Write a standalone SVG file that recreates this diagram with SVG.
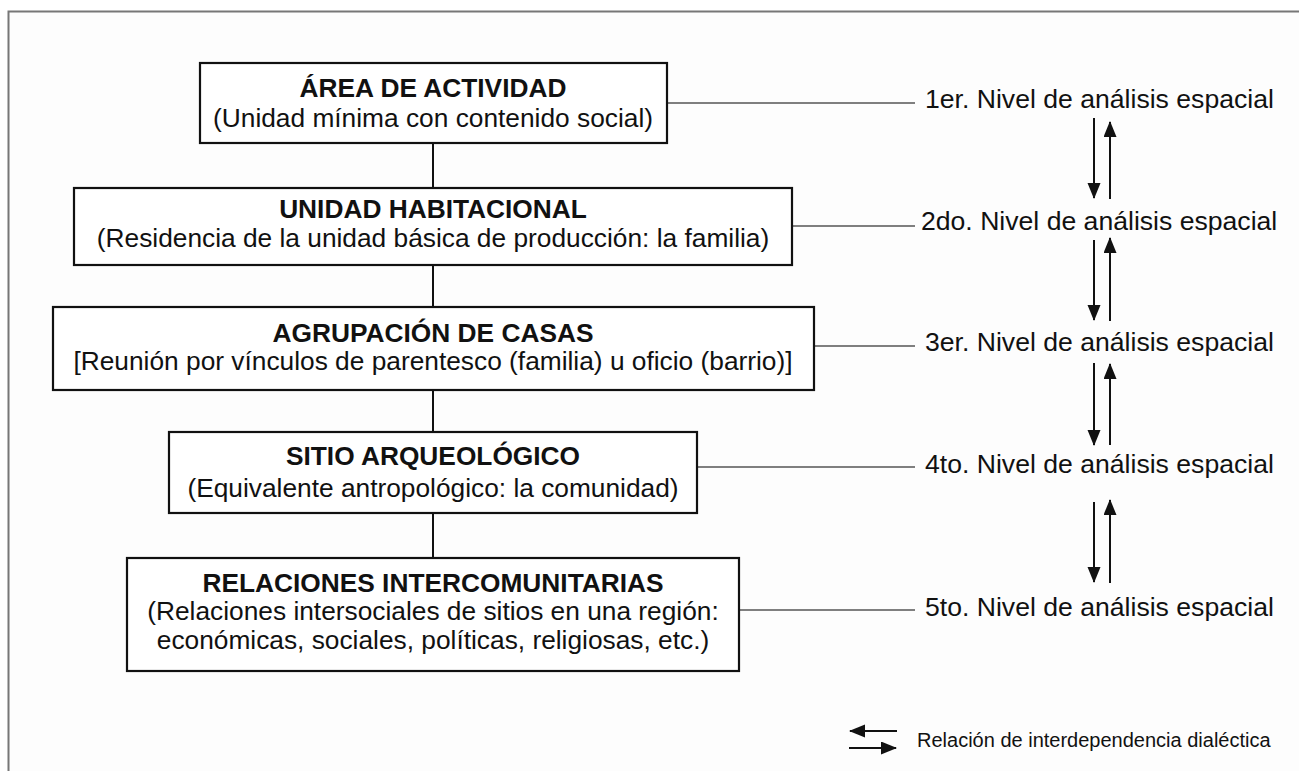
<svg xmlns="http://www.w3.org/2000/svg" width="1299" height="771" viewBox="0 0 1299 771">
<style>
.box{fill:#fff;stroke:#111;stroke-width:2.2}
.t{font-family:"Liberation Sans",Arial,sans-serif;font-size:26.3px;fill:#111;text-anchor:middle}
.b{font-weight:bold}
.lab{font-family:"Liberation Sans",Arial,sans-serif;font-size:26.6px;fill:#111}
.lead{stroke:#555;stroke-width:1.4;fill:none}
.conn{stroke:#111;stroke-width:2;fill:none}
.arr{stroke:#111;stroke-width:2;fill:none}
</style>
<defs>
<marker id="ah" markerUnits="userSpaceOnUse" markerWidth="17" markerHeight="14" refX="15" refY="6.5" orient="auto">
<path d="M0,0 L16,6.5 L0,13 Z" fill="#111"/>
</marker>
</defs>
<rect x="0" y="0" width="1299" height="771" fill="#fff"/>
<rect x="8.5" y="11.5" width="1320" height="800" fill="#fdfdfd" stroke="#777" stroke-width="2"/>
<g id="connectors">
<line class="conn" x1="433" y1="143" x2="433" y2="188"/>
<line class="conn" x1="433" y1="265" x2="433" y2="307"/>
<line class="conn" x1="433" y1="390" x2="433" y2="432"/>
<line class="conn" x1="433" y1="513" x2="433" y2="558"/>
<line class="lead" x1="667" y1="103" x2="915" y2="103"/>
<line class="lead" x1="792" y1="226" x2="915" y2="226"/>
<line class="lead" x1="814" y1="346" x2="915" y2="346"/>
<line class="lead" x1="697" y1="467" x2="915" y2="467"/>
<line class="lead" x1="739" y1="610" x2="915" y2="610"/>
<line class="arr" x1="1094" y1="118" x2="1094" y2="198" marker-end="url(#ah)"/>
<line class="arr" x1="1110" y1="199" x2="1110" y2="122" marker-end="url(#ah)"/>
<line class="arr" x1="1094" y1="240" x2="1094" y2="320" marker-end="url(#ah)"/>
<line class="arr" x1="1110" y1="321" x2="1110" y2="238" marker-end="url(#ah)"/>
<line class="arr" x1="1094" y1="363" x2="1094" y2="445" marker-end="url(#ah)"/>
<line class="arr" x1="1110" y1="445" x2="1110" y2="364" marker-end="url(#ah)"/>
<line class="arr" x1="1094" y1="502" x2="1094" y2="582" marker-end="url(#ah)"/>
<line class="arr" x1="1110" y1="583" x2="1110" y2="500" marker-end="url(#ah)"/>
</g>
<g id="n1">
<rect class="box" x="200" y="63" width="467" height="80"/>
<text class="t b" x="433" y="97">ÁREA DE ACTIVIDAD</text>
<text class="t" x="433" y="127">(Unidad mínima con contenido social)</text>
</g>
<g id="n2">
<rect class="box" x="74" y="188" width="718" height="77"/>
<text class="t b" x="433" y="218">UNIDAD HABITACIONAL</text>
<text class="t" x="433" y="247">(Residencia de la unidad básica de producción: la familia)</text>
</g>
<g id="n3">
<rect class="box" x="53" y="307" width="761" height="83"/>
<text class="t b" x="433" y="342">AGRUPACIÓN DE CASAS</text>
<text class="t" x="433" y="370">[Reunión por vínculos de parentesco (familia) u oficio (barrio)]</text>
</g>
<g id="n4">
<rect class="box" x="169" y="432" width="528" height="81"/>
<text class="t b" x="433" y="465">SITIO ARQUEOLÓGICO</text>
<text class="t" x="433" y="497">(Equivalente antropológico: la comunidad)</text>
</g>
<g id="n5">
<rect class="box" x="127" y="558" width="612" height="113"/>
<text class="t b" x="433" y="592">RELACIONES INTERCOMUNITARIAS</text>
<text class="t" x="433" y="620">(Relaciones intersociales de sitios en una región:</text>
<text class="t" x="433" y="649">económicas, sociales, políticas, religiosas, etc.)</text>
</g>
<g id="labels">
<text class="lab" x="925" y="108">1er. Nivel de análisis espacial</text>
<text class="lab" x="921" y="230">2do. Nivel de análisis espacial</text>
<text class="lab" x="925" y="351">3er. Nivel de análisis espacial</text>
<text class="lab" x="925" y="473">4to. Nivel de análisis espacial</text>
<text class="lab" x="925" y="616">5to. Nivel de análisis espacial</text>
</g>
<g id="legend">
<line class="arr" x1="897" y1="731" x2="850" y2="731" marker-end="url(#ah)"/>
<line class="arr" x1="849" y1="748" x2="896" y2="748" marker-end="url(#ah)"/>
<text font-family="Liberation Sans, Arial, sans-serif" font-size="20" fill="#111" x="917" y="747">Relación de interdependencia dialéctica</text>
</g>
</svg>
